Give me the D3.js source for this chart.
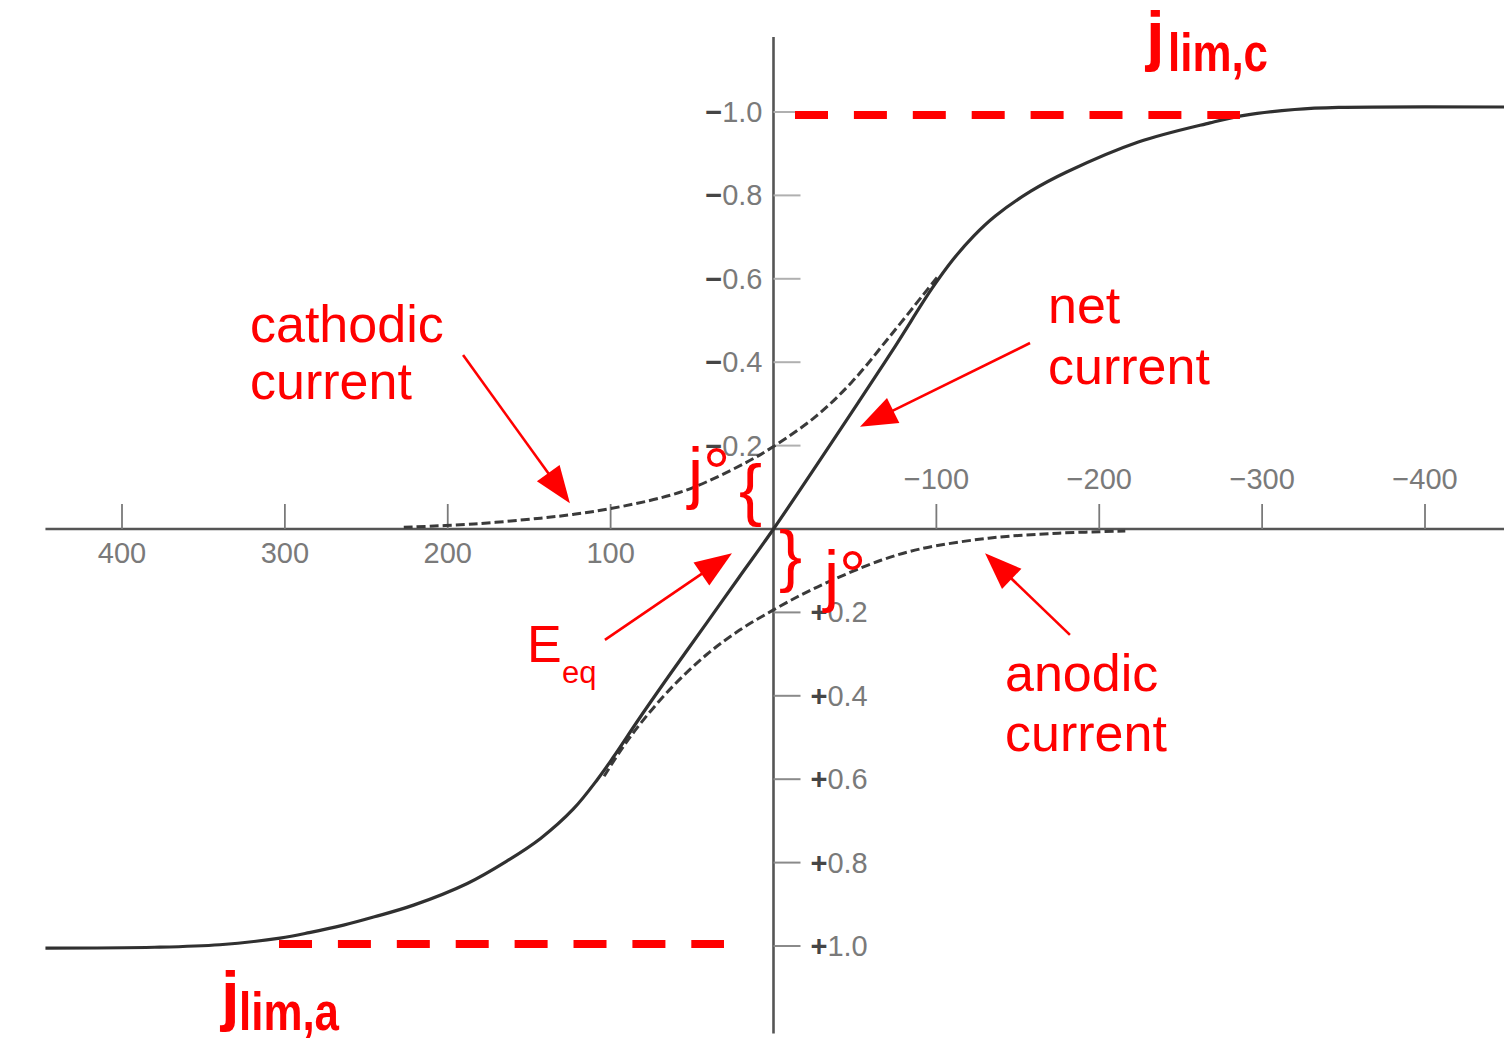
<!DOCTYPE html>
<html>
<head>
<meta charset="utf-8">
<script src="https://cdn.jsdelivr.net/npm/d3@7"></script>
<style>
  html, body { margin: 0; padding: 0; background: #ffffff; }
  svg { display: block; }
</style>
</head>
<body>
<svg id="chart" width="1504" height="1038"></svg>
<script>
// Current–overpotential curves: overpotential η (mV) vs normalized current density j
const netEta = [447, 380, 340, 303, 285, 264, 245, 221, 188, 164, 143, 123, 108, 98.5, 82, 62, 41, 21, 0,
                -53, -75, -97, -110, -123, -136, -158, -180, -224, -268, -289, -320, -347, -449];
const netJ   = [1.005, 1.003, 0.997, 0.981, 0.968, 0.950, 0.930, 0.902, 0.850, 0.797, 0.742, 0.672, 0.600, 0.548, 0.452, 0.340, 0.225, 0.115, 0,
                -0.309, -0.440, -0.575, -0.645, -0.703, -0.750, -0.810, -0.856, -0.928, -0.974, -0.992, -1.006, -1.011, -1.012];

const cathodicEta = [227, 184, 143, 123, 100, 69, 49, 18, 0, -26, -48, -70, -92, -101];
const cathodicJ   = [-0.004, -0.012, -0.026, -0.035, -0.049, -0.075, -0.100, -0.157, -0.198, -0.270, -0.352, -0.455, -0.562, -0.606];

const anodicEta = [104, 94, 82, 62, 41, 21, 0, -17, -33, -66, -90, -132, -175, -216];
const anodicJ   = [0.593, 0.532, 0.468, 0.378, 0.301, 0.243, 0.194, 0.158, 0.128, 0.075, 0.048, 0.022, 0.010, 0.005];

// Axis ticks
const xTickValues = [400, 300, 200, 100, -100, -200, -300, -400];
const xTickLabels = ["400", "300", "200", "100", "\u2212100", "\u2212200", "\u2212300", "\u2212400"];
const yTickValues = [-1.0, -0.8, -0.6, -0.4, -0.2, 0.2, 0.4, 0.6, 0.8, 1.0];
const yTickSigns  = ["\u2212", "\u2212", "\u2212", "\u2212", "\u2212", "+", "+", "+", "+", "+"];
const yTickLabels = ["1.0", "0.8", "0.6", "0.4", "0.2", "0.2", "0.4", "0.6", "0.8", "1.0"];

// Limiting current densities and the η span of their guide lines
const limitCathodic = -0.993;
const limitCathodicSpan = [-13.2, -286.4];
const limitAnodic = 0.995;
const limitAnodicSpan = [303.6, 30.4];

// Full extent of the two axis lines
const etaExtent = [447, -449];
const jExtent = [-1.18, 1.21];

// Annotation arrows: [from, to] in (η, j)
const arrowCathodic = [[190.6, -0.417], [125.0, -0.062]];
const arrowNet      = [[-157.5, -0.446], [-53.1, -0.245]];
const arrowEeq      = [[103.5, 0.266], [25.5, 0.058]];
const arrowAnodic   = [[-182.0, 0.254], [-129.9, 0.058]];

const svg = d3.select("#chart");
const RED = "#ff0000";
const FONT = "'Liberation Sans', Arial, Helvetica, sans-serif";

const x = d3.scaleLinear().domain([400, -400]).range([122, 1425]);
const y = d3.scaleLinear().domain([-1, 1]).range([112, 946]);

// ---- axes ----
const axes = svg.append("g");
axes.append("line")
  .attr("x1", x(etaExtent[0])).attr("x2", x(etaExtent[1]))
  .attr("y1", y(0)).attr("y2", y(0))
  .attr("stroke", "#555").attr("stroke-width", 2.6);
axes.append("line")
  .attr("x1", x(0)).attr("x2", x(0))
  .attr("y1", y(jExtent[0])).attr("y2", y(jExtent[1]))
  .attr("stroke", "#555").attr("stroke-width", 2.6);

// x ticks rise above the axis
axes.selectAll(".xtick").data(xTickValues).join("line")
  .attr("class", "xtick")
  .attr("x1", d => x(d)).attr("x2", d => x(d))
  .attr("y1", y(0)).attr("y2", y(0) - 25)
  .attr("stroke", "#7a7a7a").attr("stroke-width", 1.8);

axes.selectAll(".xlabel").data(xTickValues).join("text")
  .attr("class", "xlabel")
  .attr("x", d => x(d))
  .attr("y", d => d > 0 ? y(0) + 34 : y(0) - 40)
  .attr("text-anchor", "middle")
  .attr("font-family", FONT).attr("font-size", 29)
  .attr("fill", "#7a7a7a")
  .text((d, i) => xTickLabels[i]);

// y ticks point right of the axis
axes.selectAll(".ytick").data(yTickValues).join("line")
  .attr("class", "ytick")
  .attr("x1", x(0)).attr("x2", x(0) + 27)
  .attr("y1", d => y(d)).attr("y2", d => y(d))
  .attr("stroke", d => d < 0 ? "#b0b0b0" : "#8a8a8a").attr("stroke-width", 2);

const ylab = axes.selectAll(".ylabel").data(yTickValues).join("text")
  .attr("class", "ylabel")
  .attr("x", d => d < 0 ? x(0) - 11 : x(0) + 37)
  .attr("y", d => y(d) + 10)
  .attr("text-anchor", d => d < 0 ? "end" : "start")
  .attr("font-family", FONT).attr("font-size", 29);
ylab.append("tspan")
  .attr("fill", "#454545").attr("font-weight", "bold")
  .text((d, i) => yTickSigns[i]);
ylab.append("tspan")
  .attr("fill", "#7a7a7a")
  .text((d, i) => yTickLabels[i]);

// ---- curves ----
const line = d3.line()
  .x(d => x(d[0]))
  .y(d => y(d[1]))
  .curve(d3.curveCatmullRom.alpha(0.5));

const zipPts = (a, b) => a.map((v, i) => [v, b[i]]);

svg.append("path")
  .datum(zipPts(cathodicEta, cathodicJ))
  .attr("d", line)
  .attr("fill", "none").attr("stroke", "#3a3a3a")
  .attr("stroke-width", 3).attr("stroke-dasharray", "9 4");

svg.append("path")
  .datum(zipPts(anodicEta, anodicJ))
  .attr("d", line)
  .attr("fill", "none").attr("stroke", "#3a3a3a")
  .attr("stroke-width", 3).attr("stroke-dasharray", "9 4");

svg.append("path")
  .datum(zipPts(netEta, netJ))
  .attr("d", line)
  .attr("fill", "none").attr("stroke", "#303030")
  .attr("stroke-width", 3.2);

// ---- limiting-current guides ----
const lim = svg.append("g");
[[limitCathodic, limitCathodicSpan], [limitAnodic, limitAnodicSpan]].forEach(([jl, span]) => {
  lim.append("line")
    .attr("x1", x(span[0])).attr("x2", x(span[1]))
    .attr("y1", y(jl)).attr("y2", y(jl))
    .attr("stroke", RED).attr("stroke-width", 8)
    .attr("stroke-dasharray", "33 25.9");
});

// ---- annotation arrows ----
function arrow(g, pair) {
  const [sx, sy] = [x(pair[0][0]), y(pair[0][1])];
  const [tx, ty] = [x(pair[1][0]), y(pair[1][1])];
  const ang = Math.atan2(ty - sy, tx - sx);
  const L = 37, W = 14;
  const bx = tx - L * Math.cos(ang), by = ty - L * Math.sin(ang);
  g.append("line")
    .attr("x1", sx).attr("y1", sy).attr("x2", bx + 2 * Math.cos(ang)).attr("y2", by + 2 * Math.sin(ang))
    .attr("stroke", RED).attr("stroke-width", 2.6);
  const px = -Math.sin(ang), py = Math.cos(ang);
  g.append("path")
    .attr("d", d3.line()([[tx, ty], [bx + W * px, by + W * py], [bx - W * px, by - W * py]]) + "Z")
    .attr("fill", RED);
}
const ann = svg.append("g");
[arrowCathodic, arrowNet, arrowEeq, arrowAnodic].forEach(p => arrow(ann, p));

// ---- annotation text ----
function label(txt, px, py, size, weight) {
  return ann.append("text")
    .attr("x", px).attr("y", py)
    .attr("font-family", FONT).attr("font-size", size)
    .attr("font-weight", weight || "normal")
    .attr("fill", RED).text(txt);
}
label("cathodic", 250, 342, 52);
label("current", 250, 399, 52);
label("net", 1048, 323, 52);
label("current", 1048, 384, 52);
label("anodic", 1005, 691, 52);
label("current", 1005, 751, 52);
label("E", 527, 662, 52);
label("eq", 562, 683, 31);

// exchange current density marks with braces
label("j°", 688, 496, 68);
label("j°", 824, 599, 68);
label("{", 739, 513, 69);
label("}", 779, 579, 69);

// limiting current labels
label("j", 1146, 58, 67, "bold");
label("lim,c", 1168, 71, 54, "bold")
  .attr("textLength", 100).attr("lengthAdjust", "spacingAndGlyphs");
label("j", 221, 1018, 67, "bold");
label("lim,a", 239, 1030, 54, "bold")
  .attr("textLength", 100).attr("lengthAdjust", "spacingAndGlyphs");
</script>
</body>
</html>
